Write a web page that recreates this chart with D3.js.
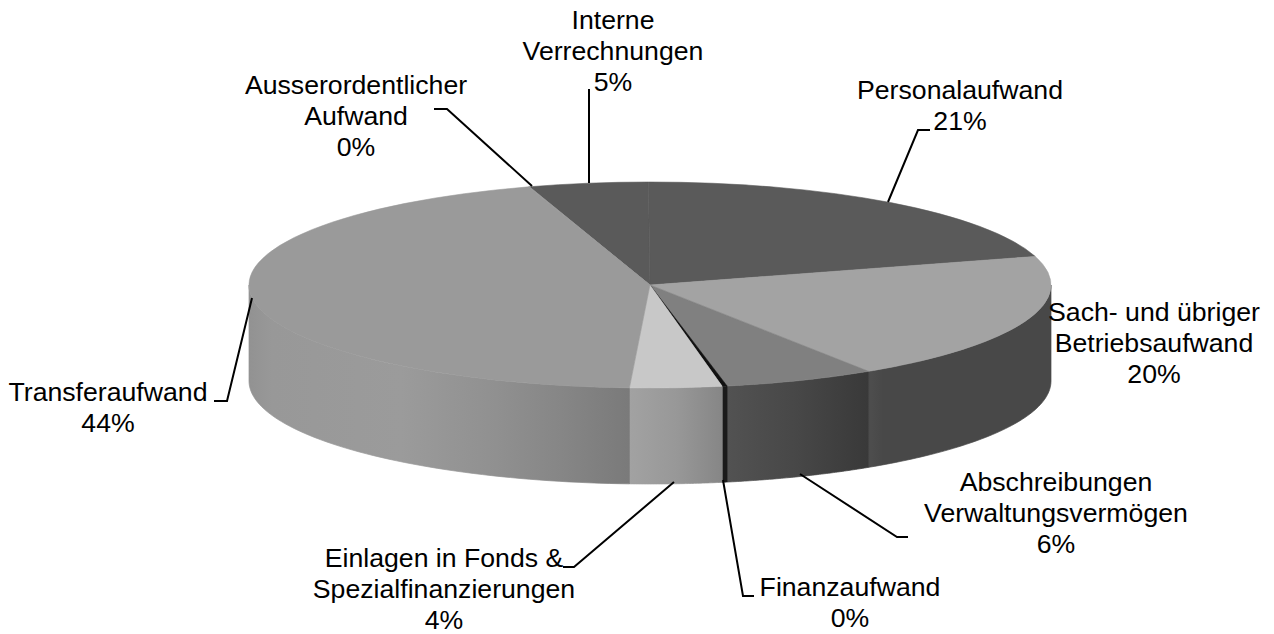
<!DOCTYPE html>
<html>
<head>
<meta charset="utf-8">
<script src="https://cdn.jsdelivr.net/npm/d3@7"></script>
<style>
  html, body { margin: 0; background: #fff; }
  text { font-family: "Liberation Sans", Arial, sans-serif; font-size: 26.67px; fill: #000; }
</style>
</head>
<body>
<div id="graf"></div>
<script>
// Datos, en el orden de las agujas del reloj
categorias = ['Interne Verrechnungen', 'Personalaufwand', 'Sach- und übriger Betriebsaufwand',
              'Abschreibungen Verwaltungsvermögen', 'Finanzaufwand',
              'Einlagen in Fonds & Spezialfinanzierungen', 'Transferaufwand', 'Ausserordentlicher Aufwand']
valores = [4.8, 20.6, 20.3, 6.1, 0.2, 3.7, 44.3, 0.04]
lineas = [['Interne', 'Verrechnungen'], ['Personalaufwand'], ['Sach- und übriger', 'Betriebsaufwand'],
          ['Abschreibungen', 'Verwaltungsvermögen'], ['Finanzaufwand'],
          ['Einlagen in Fonds &', 'Spezialfinanzierungen'], ['Transferaufwand'], ['Ausserordentlicher', 'Aufwand']]

// Colores
coloresTapa = ['#5a5a5a', '#5a5a5a', '#a3a3a3', '#808080', '#111111', '#c8c8c8', '#9a9a9a', '#9a9a9a']
coloresPared = [
  [[0, '#484848'], [1, '#484848']],
  [[0, '#4e4e4e'], [0.1, '#484848'], [1, '#484848']],
  [[0, '#4e4e4e'], [0.08, '#484848'], [1, '#484848']],
  [[0, '#525252'], [0.5, '#474747'], [1, '#393939']],
  [[0, '#1a1a1a'], [1, '#1a1a1a']],
  [[0, '#a2a2a2'], [0.5, '#989898'], [1, '#868686']],
  [[0, '#929292'], [0.06, '#989898'], [0.4, '#9b9b9b'], [0.65, '#909090'], [0.82, '#868686'], [1, '#7a7a7a']],
  [[0, '#9a9a9a'], [1, '#9a9a9a']]
]

// Posiciones de las etiquetas: [centro x, centro y de la primera linea]
posEtiquetas = [[613, 20], [960, 90], [1154, 312], [1056, 482], [850, 587], [444, 558], [108, 392], [356, 85]]
guias = [
  [[589, 89], [589, 183]],
  [[930, 130], [918, 130], [888, 202]],
  [],
  [[908, 537], [897, 537], [800, 474]],
  [[754, 596], [743, 596], [723, 480]],
  [[563, 567], [574, 567], [674, 482]],
  [[214, 401], [227, 401], [252, 298]],
  [[434, 109], [447, 109], [532, 186]]
]

// Configuración del canvas
ancho_total = 1274
alto_total = 634
cx = 650
cy = 285
rx = 401
ry = 103
grosor = 96
interlinea = 31
inicio = -17.5 * Math.PI / 180

svg = d3.select('#graf').append('svg')
        .attr('width', ancho_total)
        .attr('height', alto_total)
        .style('display', 'block')

pie = d3.pie().sort(null).startAngle(inicio).endAngle(inicio + 2 * Math.PI)
porciones = pie(valores)

formato = d3.format('.0%')
total = d3.sum(valores)

// Pared: solo la mitad delantera se ve (entre 90 y 270 grados)
paredArea = d3.area()
  .x(a => cx + rx * Math.sin(a))
  .y0(a => cy - ry * Math.cos(a))
  .y1(a => cy - ry * Math.cos(a) + grosor)

defs = svg.append('defs')

porciones.forEach((d, i) => {
  a0 = Math.max(d.startAngle, Math.PI / 2)
  a1 = Math.min(d.endAngle, 3 * Math.PI / 2)
  if (a1 <= a0) return

  x0 = cx + rx * Math.sin(a0)
  x1 = cx + rx * Math.sin(a1)

  grad = defs.append('linearGradient')
    .attr('id', `pared${i}`)
    .attr('gradientUnits', 'userSpaceOnUse')
    .attr('x1', Math.min(x0, x1)).attr('x2', Math.max(x0, x1))
    .attr('y1', 0).attr('y2', 0)
  // las paradas van de izquierda a derecha
  coloresPared[i].forEach(s => {
    grad.append('stop').attr('offset', s[0]).attr('stop-color', s[1])
  })

  pasos = d3.range(0, 61).map(k => a0 + (a1 - a0) * k / 60)
  svg.append('path')
     .attr('d', paredArea(pasos))
     .attr('fill', `url(#pared${i})`)
     .attr('stroke', `url(#pared${i})`)
     .attr('stroke-width', 0.7)
})

// Tapa
arco = d3.arc().innerRadius(0).outerRadius(rx)
tapa = svg.append('g')
          .attr('transform', `translate(${cx}, ${cy}) scale(1, ${ry / rx})`)

tapa.selectAll('path')
    .data(porciones)
    .enter()
    .append('path')
    .attr('d', arco)
    .attr('fill', (d, i) => coloresTapa[i])
    .attr('stroke', (d, i) => coloresTapa[i])
    .attr('stroke-width', 0.9)

// Guias
linea = d3.line()
svg.selectAll('.guia')
   .data(guias.filter(g => g.length))
   .enter()
   .append('path')
   .attr('class', 'guia')
   .attr('d', linea)
   .attr('fill', 'none')
   .attr('stroke', '#000')
   .attr('stroke-width', 2)

// Etiquetas
categorias.forEach((c, i) => {
  filas = lineas[i].concat([formato(valores[i] / total)])
  t = svg.append('text')
         .attr('text-anchor', 'middle')
  filas.forEach((f, k) => {
    t.append('tspan')
     .attr('x', posEtiquetas[i][0])
     .attr('y', posEtiquetas[i][1] + k * interlinea)
     .attr('dy', '0.35em')
     .text(f)
  })
})
</script>
</body>
</html>
